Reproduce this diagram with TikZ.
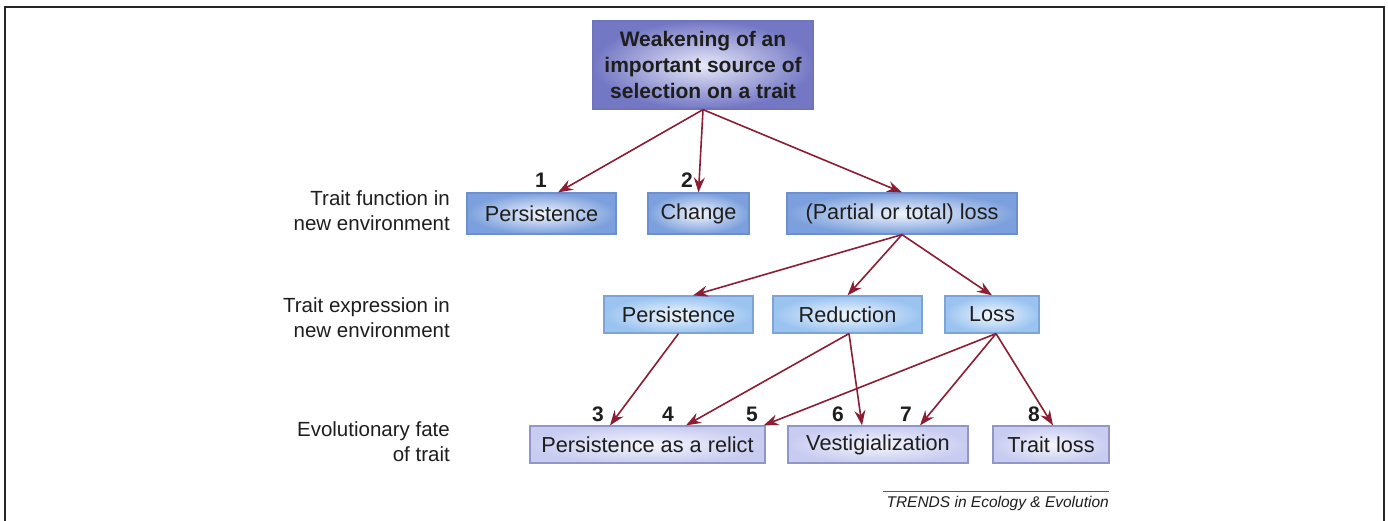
\documentclass[tikz,border=0pt]{standalone}
\usepackage{fontspec}
\setmainfont{Liberation Sans}
\usetikzlibrary{arrows.meta,calc}
\definecolor{topout}{HTML}{7478C4}
\definecolor{topin}{HTML}{E6E8F8}
\definecolor{topbd}{HTML}{6F74BE}
\definecolor{oneout}{HTML}{7CA0DD}
\definecolor{onein}{HTML}{F2F6FD}
\definecolor{onebd}{HTML}{6D8FCF}
\definecolor{twoout}{HTML}{9AC3F0}
\definecolor{twoin}{HTML}{F2F8FE}
\definecolor{twobd}{HTML}{7EA3D8}
\definecolor{throut}{HTML}{C8CCF0}
\definecolor{thrin}{HTML}{F6F6FD}
\definecolor{thrbd}{HTML}{9096C6}
\definecolor{arr}{HTML}{8C1D33}
\definecolor{txt}{HTML}{1E1E1E}
\tikzset{
  box/.style={rectangle, inner sep=0pt, text=txt, font=\fontsize{21.7}{25}\selectfont, line width=1.2pt},
  topbox/.style={box, draw=topbd, inner color=topin, outer color=topout, font=\bfseries\fontsize{21}{26}\selectfont, align=center},
  fnbox/.style={box, draw=onebd, inner color=onein, outer color=oneout},
  exbox/.style={box, draw=twobd, inner color=twoin, outer color=twoout},
  fatebox/.style={box, draw=thrbd, inner color=thrin, outer color=throut},
  rowlabel/.style={anchor=east, align=right, text=txt, inner sep=0pt, font=\fontsize{20.5}{25}\selectfont},
  num/.style={text=txt, inner sep=0pt, font=\bfseries\fontsize{21}{25}\selectfont},
  conn/.style={draw=arr, line width=1.6pt, -{Stealth[length=15pt,width=11pt,inset=5pt]}},
}
\begin{document}
\begin{tikzpicture}[x=1pt,y=-1pt]
\useasboundingbox (0,0) rectangle (1388,520);
\fill[white] (0,0) rectangle (1388,520);
\draw[line width=2.2pt, black!85] (5,525) -- (5,7) -- (1384,7) -- (1384,525);

% top
\node[topbox, minimum width=220pt, minimum height=88pt] (top) at (703,65) {Weakening of an\\important source of\\selection on a trait};

% row 1
\node[fnbox, minimum width=149pt, minimum height=41pt] (p1) at (541.5,213.5) {Persistence};
\node[fnbox, minimum width=101pt, minimum height=41pt] (ch) at (698.5,213.5) {Change};
\node[fnbox, minimum width=230pt, minimum height=41pt] (pl) at (902,213.5) {(Partial or total) loss};

% row 2
\node[exbox, minimum width=149pt, minimum height=37pt] (p2) at (678.5,314.5) {Persistence};
\node[exbox, minimum width=149pt, minimum height=37pt] (rd) at (847.5,314.5) {Reduction};
\node[exbox, minimum width=94pt, minimum height=37pt] (ls) at (992,314.5) {Loss};

% row 3
\node[fatebox, minimum width=235pt, minimum height=37pt] (rl) at (647.5,444.5) {Persistence as a relict};
\node[fatebox, minimum width=180pt, minimum height=37pt] (vs) at (878,444.5) {Vestigialization};
\node[fatebox, minimum width=116pt, minimum height=37pt] (tl) at (1051,444.5) {Trait loss};

% row labels
\node[rowlabel] (l1) at (450,210.5) {Trait function in\\new environment};
\node[rowlabel] (l2) at (450,317.5) {Trait expression in\\new environment};
\node[rowlabel] (l3) at (450,441.5) {Evolutionary fate\\of trait};

% numbers
\node[num] (n1) at (541,180) {1};
\node[num] (n2) at (687,180) {2};
\node[num] (n3) at (598,414) {3};
\node[num] (n4) at (668,414) {4};
\node[num] (n5) at (752,414) {5};
\node[num] (n6) at (838,414) {6};
\node[num] (n7) at (906,414) {7};
\node[num] (n8) at (1034,414) {8};

% connectors
\draw[conn] (top.south) -- ($(p1.north)+(16.5,0)$);
\draw[conn] (top.south) -- (ch.north);
\draw[conn] (top.south) -- (pl.north);
\draw[conn] (pl.south) -- ($(p2.north)+(14.5,0)$);
\draw[conn] (pl.south) -- (rd.north);
\draw[conn] (pl.south) -- (ls.north);
\draw[conn] (p2.south) -- ($(rl.north)+(-37.5,0)$);
\draw[conn] ($(rd.south)+(1.5,0)$) -- ($(rl.north)+(38.5,0)$);
\draw[conn] ($(rd.south)+(1.5,0)$) -- ($(vs.north)+(-16,0)$);
\draw[conn] ($(ls.south)+(4,0)$) -- ($(rl.north east)+(-2,0)$);
\draw[conn] ($(ls.south)+(4,0)$) -- ($(vs.north)+(42,0)$);
\draw[conn] ($(ls.south)+(4,0)$) -- ($(tl.north)+(2,0)$);

% credit
\coordinate (cr1) at (883,491);
\coordinate (cr2) at (1109,491);
\draw[line width=1pt, black!65] (cr1) -- (cr2);
\node[anchor=north east, inner sep=0pt, text=txt, font=\itshape\fontsize{15.5}{18}\selectfont] (credit) at (1109,496) {TRENDS in Ecology \& Evolution};
\end{tikzpicture}
\end{document}
